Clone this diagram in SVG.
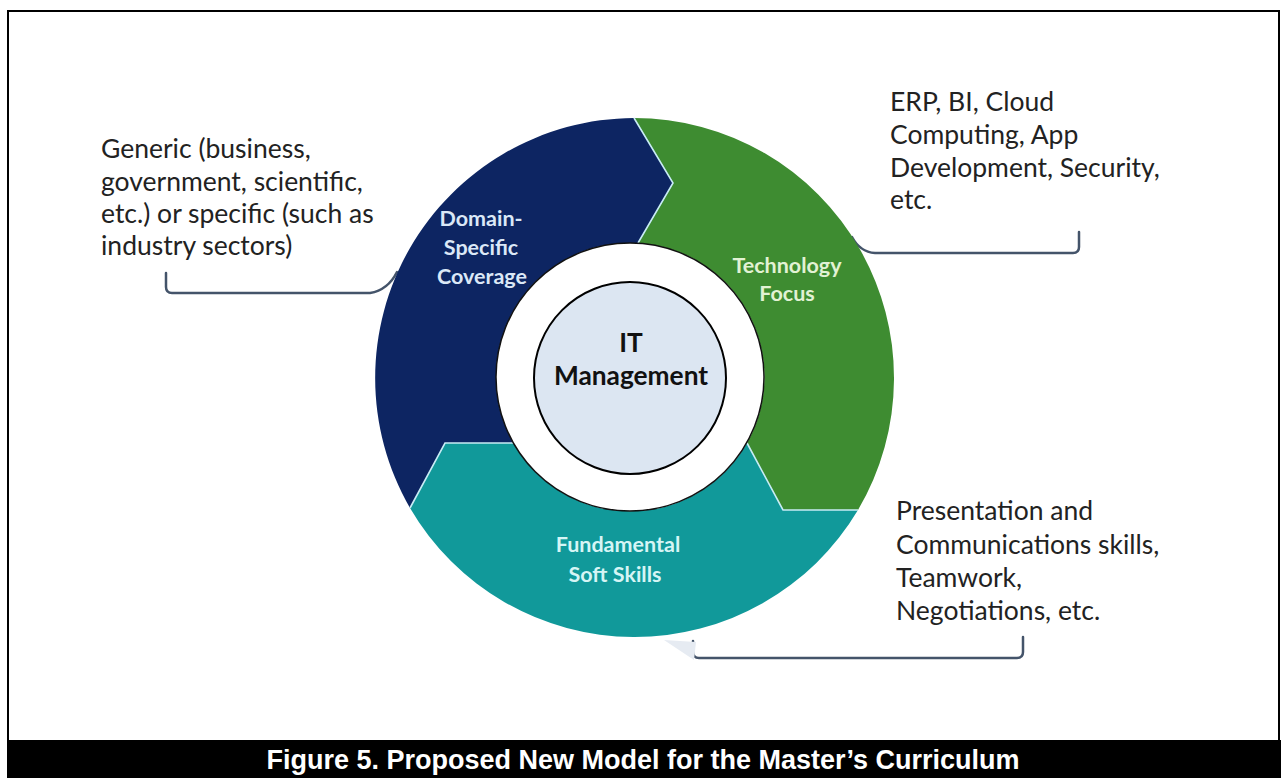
<svg xmlns="http://www.w3.org/2000/svg" width="1287" height="778" viewBox="0 0 1287 778">
<style>
.note{font-family:Lato,"Open Sans","Liberation Sans",sans-serif;font-size:26.5px;fill:#222}
.seg{font-family:Lato,"Open Sans","Liberation Sans",sans-serif;font-size:21.5px;font-weight:700;text-anchor:middle}
.core{font-family:Lato,"Open Sans","Liberation Sans",sans-serif;font-size:26.3px;font-weight:700;text-anchor:middle;fill:#111}
.cap{font-family:"Liberation Sans",Arial,sans-serif;font-size:27px;font-weight:700;fill:#fff;text-anchor:middle}
.brace{fill:none;stroke:#44546a;stroke-width:2.5;stroke-linecap:round}
.edge{fill:none;stroke:#c8ecf5;stroke-width:1.6}
</style>
<rect x="0" y="0" width="1287" height="778" fill="#fff"/>
<rect x="8" y="11" width="1271" height="760" fill="none" stroke="#000" stroke-width="2"/>
<rect x="7" y="740" width="1274" height="38" fill="#000"/>
<text class="cap" x="643" y="769">Figure 5. Proposed New Model for the Master’s Curriculum</text>

<g id="connectors">
<path class="brace" d="M166,273 L166,287 Q166,293 172,293 L370,293 Q388,290 397,272"/>
<path class="brace" d="M852,237 Q860,252 875,253 L1073,253 Q1079,253 1079,247 L1079,232"/>
<path class="brace" d="M693,641 L693,652 Q693,658 699,658 L1017,658 Q1023,658 1023,652 L1023,637"/>
</g>

<polygon points="664,640 696,642 694,660" fill="#e6ebf2"/>

<g id="domain">
<path d="M410,508 A260,260 0 0 1 634,118 L673,183 L638,243.2 A134,134 0 0 0 513.4,443 L445,443 Z" fill="#0d2562"/>
<text class="seg" fill="#dbe8f7"><tspan x="481" y="226">Domain-</tspan><tspan x="481" y="255">Specific</tspan><tspan x="482" y="284">Coverage</tspan></text>
</g>
<g id="technology">
<path d="M634,118 A260,260 0 0 1 858,510 L783,510 L747,443 A134,134 0 0 0 638,243.2 L673,183 Z" fill="#3e8c31"/>
<text class="seg" fill="#e2f2d4"><tspan x="787" y="273">Technology</tspan><tspan x="787" y="301">Focus</tspan></text>
</g>
<g id="softskills">
<path d="M858,510 A260,260 0 0 1 410,508 L445,443 L513.4,443 A134,134 0 0 0 747,443 L783,510 Z" fill="#11999a"/>
<text class="seg" fill="#d6f5f5"><tspan x="618" y="552">Fundamental</tspan><tspan x="615" y="582">Soft Skills</tspan></text>
</g>
<polyline class="edge" points="634,118 673,183 638,243"/>
<polyline class="edge" points="410,508 445,443 513,443"/>
<polyline class="edge" points="747,443 783,510 858,510"/>

<g id="it-management">
<circle cx="630" cy="377" r="134" fill="#fff" stroke="#111" stroke-width="1.5"/>
<circle cx="630" cy="378" r="96" fill="#dce6f2" stroke="#000" stroke-width="2"/>
<text class="core"><tspan x="631" y="352">IT</tspan><tspan x="631" y="385">Management</tspan></text>
</g>

<g id="note-domain">
<text class="note"><tspan x="101" y="158">Generic (business,</tspan><tspan x="101" y="191">government, scientific,</tspan><tspan x="101" y="223">etc.) or specific (such as</tspan><tspan x="101" y="255">industry sectors)</tspan></text>
</g>
<g id="note-technology">
<text class="note"><tspan x="890" y="111">ERP, BI, Cloud</tspan><tspan x="890" y="144">Computing, App</tspan><tspan x="890" y="177">Development, Security,</tspan><tspan x="890" y="209">etc.</tspan></text>
</g>
<g id="note-soft">
<text class="note"><tspan x="896" y="520">Presentation and</tspan><tspan x="896" y="554">Communications skills,</tspan><tspan x="896" y="587">Teamwork,</tspan><tspan x="896" y="620">Negotiations, etc.</tspan></text>
</g>
</svg>
